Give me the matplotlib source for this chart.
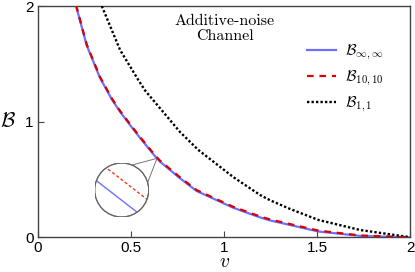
import numpy as np
import matplotlib
matplotlib.use("Agg")
import matplotlib.pyplot as plt
from matplotlib.patches import Circle

plt.rcParams['mathtext.fontset'] = 'cm'
plt.rcParams['font.family'] = ['Liberation Sans', 'DejaVu Sans']

# values
v_inf = [0.206, 0.263, 0.334, 0.397, 0.442, 0.503, 0.549, 0.63, 0.656, 0.764,
         0.853, 1.05, 1.193, 1.247, 1.506, 1.73, 1.98, 2.0]
B_inf = [2.0, 1.66, 1.38, 1.195, 1.085, 0.955, 0.86, 0.70, 0.655, 0.51,
         0.40, 0.255, 0.172, 0.146, 0.05, 0.012, 0.0, 0.0]

v_10 = [0.206, 0.263, 0.334, 0.397, 0.442, 0.503, 0.549, 0.63, 0.656, 0.764,
        0.853, 1.05, 1.193, 1.247, 1.506, 1.73, 1.98, 2.0]
B_10 = [2.008, 1.668, 1.388, 1.203, 1.093, 0.963, 0.868, 0.708, 0.663, 0.518,
        0.408, 0.263, 0.180, 0.154, 0.058, 0.016, 0.001, 0.0]

v_11 = [0.344, 0.442, 0.54, 0.576, 0.764, 0.862, 1.05, 1.193, 1.247, 1.354,
        1.506, 1.73, 1.98, 2.0]
B_11 = [2.0, 1.62, 1.36, 1.27, 0.91, 0.755, 0.52, 0.366, 0.32, 0.245,
        0.15, 0.063, 0.005, 0.0]

xticks = [0, 0.5, 1, 1.5, 2]
xticklabels = ['0', '0.5', '1', '1.5', '2']
yticks = [0, 1, 2]

zoom_v = 0.64  # where the magnifier looks

blue = '#6f6fff'
red = '#d80000'

fig = plt.figure(figsize=(4.15, 2.72), dpi=100)
ax = fig.add_axes([0.0908, 0.1276, 0.8983, 0.8502])

ax.plot(v_inf, B_inf, color=blue, lw=1.6, label=r'$\mathcal{B}_{\infty,\infty}$', zorder=3)
ax.plot(v_10, B_10, color=red, lw=1.6, dashes=(3, 2.6), label=r'$\mathcal{B}_{10,10}$', zorder=4)
ax.plot(v_11, B_11, color='black', lw=1.7, linestyle=(0, (1, 0.9)), label=r'$\mathcal{B}_{1,1}$', zorder=3)

ax.set_xlim(0, 2)
ax.set_ylim(0, 2)
ax.set_xticks(xticks)
ax.set_xticklabels(xticklabels)
ax.set_yticks(yticks)
ax.tick_params(direction='in', length=4, width=0.8, labelsize=11, color='#444', pad=3)
for s in ax.spines.values():
    s.set_color('#444')
    s.set_linewidth(1.0)

ax.set_xlabel(r'$v$', fontsize=14, va='center')
ax.xaxis.set_label_coords(0.5, -0.11)
ax.set_ylabel(r'$\mathcal{B}$', fontsize=15, rotation=0, labelpad=12, va='center')

ax.text(0.502, 0.965, 'Additive-noise\nChannel', transform=ax.transAxes,
        ha='center', va='top', fontsize=11.5, family='cmr10', linespacing=1.1)

leg = ax.legend(loc='upper right', bbox_to_anchor=(0.965, 0.9), frameon=False,
                fontsize=11, handlelength=1.9, handletextpad=0.6, labelspacing=0.45)

# magnifier circle
ax_in = fig.add_axes([0.2282, 0.2022, 0.1301, 0.1985])
ax_in.set_facecolor('none')
ax_in.set_axis_off()
bg = Circle((0.5, 0.5), 0.5, transform=ax_in.transAxes, facecolor='white',
            edgecolor='#666', lw=0.8, zorder=1)
ax_in.add_patch(bg)
b_c = np.interp(zoom_v, v_inf, B_inf)
r_c = np.interp(zoom_v, v_10, B_10)
mid = 0.5 * (b_c + r_c)
dy = 0.0105
dx = 0.0047
ax_in.set_xlim(zoom_v - dx, zoom_v + dx)
ax_in.set_ylim(mid - dy, mid + dy)
l1, = ax_in.plot(v_inf, B_inf, color=blue, lw=1.0, zorder=2)
l2, = ax_in.plot(v_10, B_10, color='#f03a1e', lw=1.0, dashes=(2.2, 1.6), zorder=2)
clip = Circle((0.5, 0.5), 0.5, transform=ax_in.transAxes)
l1.set_clip_path(clip)
l2.set_clip_path(clip)
ring = Circle((0.5, 0.5), 0.5, transform=ax_in.transAxes, facecolor='none',
              edgecolor='#666', lw=0.8, zorder=3)
ax_in.add_patch(ring)

# connector lines from the curve to the circle
fig.canvas.draw()
p = ax.transData.transform((zoom_v, b_c))
c = ax_in.transAxes.transform((0.5, 0.5))
rad = ax_in.transAxes.transform((1.0, 0.5))[0] - c[0]
theta = np.arctan2(p[1] - c[1], p[0] - c[0])
inv = ax.transData.inverted()
for a in (theta + 0.45, theta - 0.45):
    q = c + rad * np.array([np.cos(a), np.sin(a)])
    pts = inv.transform([q, p])
    ax.plot(pts[:, 0], pts[:, 1], color='#777', lw=0.7, zorder=2)

fig.savefig('out.png', dpi=100)
